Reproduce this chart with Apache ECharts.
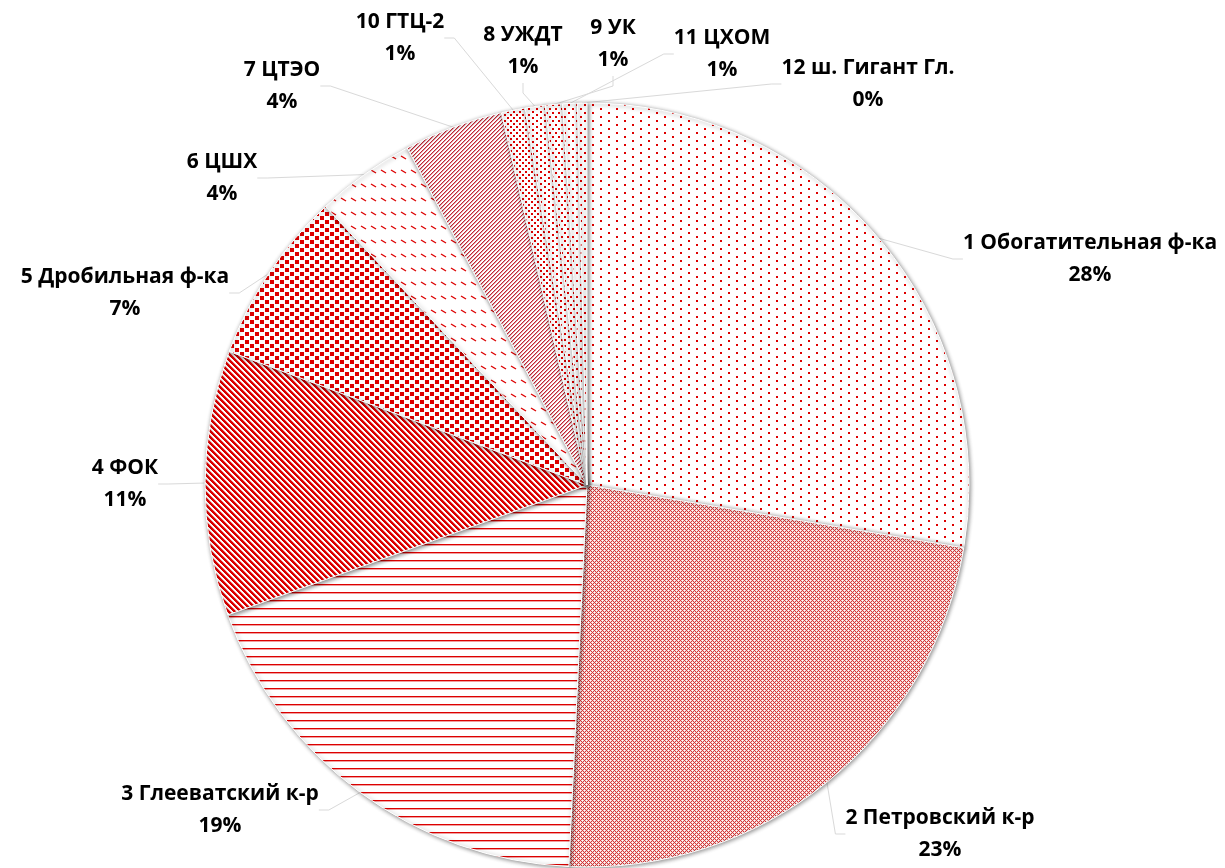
<!DOCTYPE html>
<html>
<head>
<meta charset="utf-8">
<script src="https://cdn.jsdelivr.net/npm/echarts@6/dist/echarts.min.js"></script>
<style>
  html, body { margin: 0; padding: 0; background: #fff; }
  #chart { width: 1225px; height: 868px; }
</style>
</head>
<body>
<div id="chart"></div>
<script>
// Shop names, clockwise from 12 o'clock
const categories = [
  '1 Обогатительная ф-ка', '2 Петровский к-р', '3 Глееватский к-р', '4 ФОК',
  '5 Дробильная ф-ка', '6 ЦШХ', '7 ЦТЭО', '10 ГТЦ-2', '8 УЖДТ', '9 УК',
  '11 ЦХОМ', '12 ш. Гигант Гл.'
];
// Share of each shop, percent
const values = [27.6, 23.1, 18.7, 11.2, 7.3, 4.2, 4.2, 1.0, 0.85, 0.72, 0.62, 0.4];

// Label block centres (text placement only)
const labelPos = [
  [1090, 259], [940, 834], [220, 810], [125, 484], [125, 293], [222, 178],
  [282, 86], [400, 38], [523, 51], [613, 44], [722, 54], [868, 84]
];

const RED = '#dd0000';
const PINK = 'rgba(230,80,80,0.55)';

function tile(w, h, draw) {
  const c = document.createElement('canvas');
  c.width = w; c.height = h;
  const ctx = c.getContext('2d');
  ctx.fillStyle = '#fff';
  ctx.fillRect(0, 0, w, h);
  draw(ctx, w, h);
  return { image: c, repeat: 'repeat' };
}
function px(ctx, x, y, col, s) { ctx.fillStyle = col; ctx.fillRect(x, y, s || 1, s || 1); }

const patterns = [
  // sparse staggered dots
  tile(16, 8, ctx => { px(ctx, 0, 0, RED, 2); px(ctx, 8, 4, RED, 2); }),
  // small diamond lattice
  tile(4, 4, ctx => {
    for (let x = 0; x < 4; x++) for (let y = 0; y < 4; y++) {
      if ((x + y) % 4 === 0 || ((x - y) % 4 + 4) % 4 === 0) px(ctx, x, y, '#d43a3a');
      else if ((x + y) % 2 === 1) px(ctx, x, y, 'rgba(230,120,120,0.35)');
    }
  }),
  // horizontal lines
  tile(8, 8, ctx => { ctx.fillStyle = RED; ctx.fillRect(0, 0, 8, 1); ctx.fillStyle = PINK; ctx.fillRect(0, 1, 8, 1); }),
  // dense downward diagonal
  tile(6, 6, ctx => {
    for (let x = 0; x < 6; x++) for (let y = 0; y < 6; y++) {
      const d = ((x - y) % 6 + 6) % 6;
      if (d < 3) px(ctx, x, y, RED); else if (d === 3) px(ctx, x, y, PINK);
    }
  }),
  // large staggered squares
  tile(10, 8, ctx => { px(ctx, 0, 0, RED, 4); px(ctx, 5, 4, RED, 4); }),
  // dashed diagonal
  tile(10, 14, ctx => {
    ctx.strokeStyle = RED; ctx.lineWidth = 1.4;
    ctx.beginPath(); ctx.moveTo(1, 2); ctx.lineTo(6, 5); ctx.stroke();
  }),
  // dense upward diagonal
  tile(4, 4, ctx => {
    for (let x = 0; x < 4; x++) for (let y = 0; y < 4; y++) {
      const d = (x + y) % 4;
      if (d === 0) px(ctx, x, y, '#c02535'); else if (d === 1) px(ctx, x, y, 'rgba(210,90,100,0.6)');
    }
  }),
  tile(6, 6, ctx => { px(ctx, 0, 0, RED, 2); px(ctx, 3, 3, RED, 2); }),
  tile(8, 6, ctx => { px(ctx, 0, 0, RED, 2); px(ctx, 4, 3, RED, 2); }),
  tile(6, 8, ctx => { px(ctx, 0, 0, RED, 2); px(ctx, 3, 4, RED, 2); }),
  tile(8, 8, ctx => { px(ctx, 0, 0, RED, 2); px(ctx, 4, 4, RED, 2); }),
  tile(8, 8, ctx => { px(ctx, 0, 0, RED, 2); px(ctx, 4, 4, RED, 2); })
];

const total = values.reduce((a, b) => a + b, 0);

const chart = echarts.init(document.getElementById('chart'), null, { renderer: 'canvas' });
chart.setOption({
  backgroundColor: '#fff',
  animation: false,
  series: [{
    type: 'pie',
    center: [587, 485],
    radius: 382,
    startAngle: 90,
    clockwise: true,
    avoidLabelOverlap: false,
    data: categories.map((name, i) => ({
      name,
      value: values[i],
      itemStyle: { color: patterns[i] }
    })),
    itemStyle: {
      borderColor: '#ffffff',
      borderWidth: 1,
      shadowBlur: 4,
      shadowColor: 'rgba(0,0,0,0.45)',
      shadowOffsetX: 1,
      shadowOffsetY: 1
    },
    label: {
      show: true,
      position: 'outside',
      formatter: p => p.name + '\n' + Math.round(p.value / total * 100) + '%',
      fontFamily: '"Open Sans", sans-serif',
      fontWeight: 'bold',
      fontSize: 21,
      lineHeight: 32,
      color: '#000',
      align: 'center'
    },
    labelLine: {
      show: true,
      length: 20,
      length2: 10,
      lineStyle: { color: '#d9d9d9', width: 1 }
    },
    labelLayout: params => {
      const p = labelPos[params.dataIndex];
      return { x: p[0], y: p[1], align: 'center', verticalAlign: 'middle' };
    }
  }]
});
</script>
</body>
</html>
